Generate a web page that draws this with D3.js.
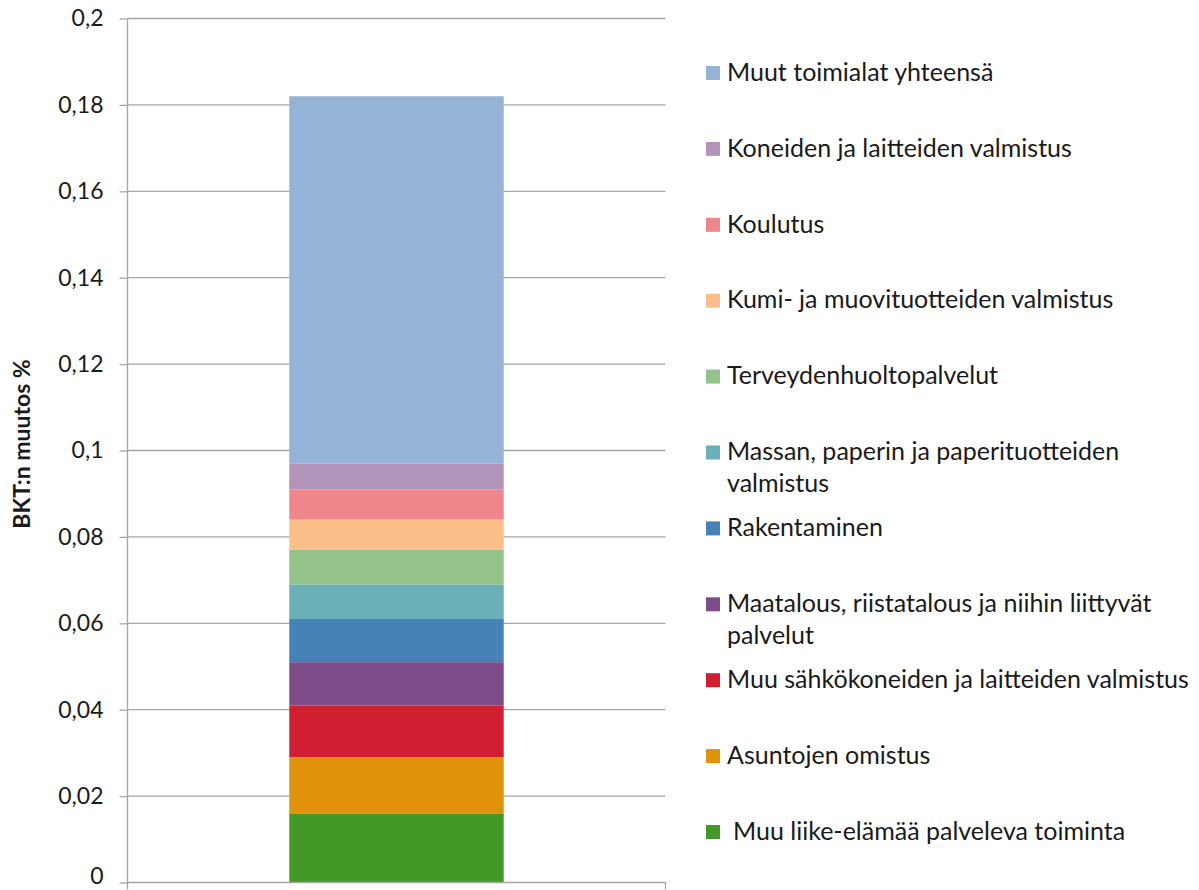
<!DOCTYPE html>
<html>
<head>
<meta charset="utf-8">
<script src="https://cdn.jsdelivr.net/npm/d3@7"></script>
<style>
  body { margin:0; background:#fff; }
  svg text { font-family: Lato, "Open Sans", sans-serif; fill:#1a1a1a; }
</style>
</head>
<body>
<svg id="chart" width="1199" height="890"></svg>
<script>
// ===== DATA (bottom of the stack first) =====
const sectors = [
  "Muu liike-elämää palveleva toiminta",
  "Asuntojen omistus",
  "Muu sähkökoneiden ja laitteiden valmistus",
  "Maatalous, riistatalous ja niihin liittyvät\npalvelut",
  "Rakentaminen",
  "Massan, paperin ja paperituotteiden\nvalmistus",
  "Terveydenhuoltopalvelut",
  "Kumi- ja muovituotteiden valmistus",
  "Koulutus",
  "Koneiden ja laitteiden valmistus",
  "Muut toimialat yhteensä"
];
const values = [0.016, 0.013, 0.012, 0.010, 0.010, 0.008, 0.008, 0.007, 0.007, 0.006, 0.085];
const colors = ["#439828","#e0920a","#cf1f30","#7f4c8a","#4681b8","#6bb0b8",
                "#94c38a","#fbc08a","#ee868b","#b294ba","#95b3d7"];
const yTicks = [0, 0.02, 0.04, 0.06, 0.08, 0.1, 0.12, 0.14, 0.16, 0.18, 0.2];
const yTitle = "BKT:n muutos %";

const svg = d3.select("#chart");
const plotL = 127.5, plotR = 665.5, plotT = 18.5, plotB = 882.5;

const x = d3.scaleBand().domain(["all"]).range([plotL, plotR]).paddingInner(0.43).paddingOuter(0.43);
const y = d3.scaleLinear().domain([0, 0.2]).range([plotB, plotT]);
const fmt = d => String(+d.toFixed(2)).replace(".", ",");

// ===== GRID + Y AXIS =====
const yAxis = svg.append("g").attr("transform", `translate(${plotL},0)`)
  .call(d3.axisLeft(y).tickValues(yTicks).tickFormat(fmt).tickSize(8).tickPadding(16));
yAxis.select(".domain").remove();
yAxis.selectAll(".tick line").attr("stroke", "#a6a6a6").attr("stroke-width", 1.3);
yAxis.selectAll(".tick text").attr("font-size", 23).attr("fill", "#1a1a1a");
yAxis.selectAll(".tick text").filter(d => d === 0).attr("dy", "0.05em");

svg.append("g").selectAll("line").data(yTicks.slice(1)).join("line")
  .attr("x1", plotL).attr("x2", plotR)
  .attr("y1", d => y(d)).attr("y2", d => y(d))
  .attr("stroke", "#a6a6a6").attr("stroke-width", 1.3);

// ===== STACKED BAR =====
let base = 0;
const stack = values.map((v, i) => { const s = {y0: base, y1: base + v, c: colors[i]}; base += v; return s; });
svg.append("g").selectAll("rect").data(stack).join("rect")
  .attr("x", x("all")).attr("width", x.bandwidth())
  .attr("y", d => y(d.y1)).attr("height", d => y(d.y0) - y(d.y1))
  .attr("fill", d => d.c);

// ===== AXIS LINES =====
svg.append("line").attr("x1", plotL).attr("x2", plotL).attr("y1", plotT).attr("y2", plotB + 7)
  .attr("stroke", "#a6a6a6").attr("stroke-width", 1.3);
svg.append("line").attr("x1", plotL).attr("x2", plotR).attr("y1", plotB).attr("y2", plotB)
  .attr("stroke", "#a6a6a6").attr("stroke-width", 1.3);
svg.append("line").attr("x1", plotR).attr("x2", plotR).attr("y1", plotB).attr("y2", plotB + 7)
  .attr("stroke", "#a6a6a6").attr("stroke-width", 1.3);

// ===== Y TITLE =====
svg.append("text").attr("transform", "translate(30,444) rotate(-90)")
  .attr("text-anchor", "middle").attr("font-size", 23).attr("font-weight", "bold")
  .text(yTitle);

// ===== LEGEND (top segment first) =====
const legendOrder = d3.range(sectors.length).reverse();
const lg = svg.append("g").selectAll("g").data(legendOrder).join("g")
  .attr("transform", (d, i) => `translate(706,${72 + i * 75.9})`);
lg.append("rect").attr("x", 0).attr("y", -6).attr("width", 14).attr("height", 14).attr("fill", d => colors[d]);
lg.append("text").attr("font-size", 25)
  .each(function(d) {
    const tx = d === 0 ? 27 : 21;
    d3.select(this).selectAll("tspan").data(sectors[d].split("\n")).join("tspan")
      .attr("x", tx).attr("y", (l, j) => j * 32).attr("dy", "0.35em")
      .text(l => l);
  });
</script>
</body>
</html>
